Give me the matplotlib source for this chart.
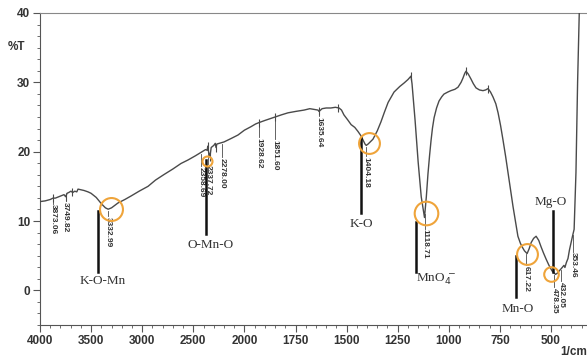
import numpy as np
import matplotlib
matplotlib.use("Agg")
import matplotlib.pyplot as plt
from matplotlib.ticker import FixedLocator, NullFormatter

# ---------------- data ----------------
wavenumber = [4000, 3950, 3900, 3873, 3850, 3800, 3765, 3749, 3735, 3720, 3697, 3680, 3660, 3640,
              3628, 3600, 3569, 3530, 3501, 3450, 3400, 3360, 3333, 3300, 3237, 3170, 3110, 3030,
              2943, 2870, 2787, 2700, 2620, 2552, 2480, 2425, 2380, 2365, 2358, 2350, 2337, 2325,
              2300, 2285, 2278, 2270, 2200, 2130, 2063, 2000, 1968, 1945, 1928, 1900, 1870, 1851,
              1820, 1787, 1750, 1708, 1680, 1660, 1640, 1635, 1620, 1600, 1577, 1555, 1537, 1525,
              1513, 1495, 1478, 1460, 1444, 1430, 1420, 1410, 1404, 1395, 1385, 1371, 1350, 1332,
              1315, 1297, 1268, 1240, 1219, 1200, 1185, 1180, 1165, 1150, 1135, 1119, 1110, 1102,
              1094, 1087, 1080, 1072, 1060, 1048, 1035, 1024, 1005, 990, 970, 955, 940, 931, 922,
              916, 905, 892, 880, 867, 850, 833, 820, 808, 796, 784, 770, 759, 747, 735, 722, 710,
              698, 686, 674, 662, 650, 640, 630, 617, 607, 597, 585, 573, 560, 549, 537, 524, 510,
              495, 478, 468, 460, 448, 437, 432, 425, 417, 410, 402, 395, 387, 378, 370, 362, 355, 345]
transmittance = [12.8, 12.9, 13.1, 13.3, 13.3, 13.6, 13.8, 13.5, 14.0, 14.1, 14.3, 14.1, 14.3, 14.2,
                 14.6, 14.5, 14.4, 14.2, 14.0, 13.4, 12.5, 11.9, 11.7, 11.9, 12.6, 13.1, 13.6, 14.3,
                 15.0, 15.9, 16.7, 17.5, 18.3, 18.8, 19.4, 19.9, 20.3, 20.2, 20.8, 19.9, 19.3, 20.6,
                 20.9, 21.2, 20.6, 21.1, 21.4, 21.9, 22.4, 23.1, 23.6, 24.0, 24.2, 24.5, 24.8, 25.0,
                 25.3, 25.6, 25.8, 26.0, 26.2, 26.1, 26.0, 25.8, 26.2, 26.3, 26.3, 26.4, 26.3, 26.0,
                 25.3, 24.6, 23.9, 23.5, 22.9, 22.3, 21.7, 21.1, 20.9, 21.1, 21.4, 21.8, 23.0, 24.3,
                 25.7, 27.1, 28.6, 29.4, 29.9, 30.4, 30.9, 29.8, 24.5, 18.5, 13.5, 10.5, 13.5, 16.8,
                 19.5, 21.6, 23.4, 24.9, 26.3, 27.3, 27.9, 28.3, 28.6, 28.8, 29.0, 29.3, 30.0, 30.6,
                 31.3, 31.6, 31.2, 30.5, 29.8, 29.2, 28.9, 28.8, 28.9, 29.1, 28.6, 27.9, 26.9, 25.6,
                 23.8, 21.7, 19.3, 16.9, 14.5, 12.1, 9.9, 7.8, 6.8, 6.2, 5.7, 5.3, 6.0, 6.9, 7.5, 7.8,
                 7.2, 6.3, 5.4, 4.5, 3.6, 2.8, 2.3, 2.5, 2.8, 3.2, 3.6, 3.3, 4.0, 4.6, 5.8, 6.9, 7.8,
                 8.8, 17.0, 30.0, 40.0, 48.0, 55.0]

# peak labels: text, wavenumber where the label sits, %T of the label top
peak_labels = ["3873.06", "3749.82", "3332.99", "2358.69", "2337.72", "2278.00", "1928.62",
               "1851.60", "1635.64", "1404.18", "1118.71", "617.22", "478.35", "432.05", "353.46"]
peak_label_x = [3873, 3749, 3333, 2425, 2356, 2219, 1929, 1851, 1635, 1404, 1117, 622, 484, 451, 392]
peak_label_top = [12.4, 12.8, 10.6, 17.8, 18.1, 19.1, 22.0, 21.7, 25.0, 19.3, 8.8, 3.5, 0.4, 1.2, 5.5]

# small peak tick marks on the trace
tick_marks = [3873, 3749, 3690, 2358, 2337, 2278, 1928, 1851, 1635, 1540, 1185, 916, 808]

# assignment labels
assign_text = ["K-O-Mn", "O-Mn-O", "K-O", "MnO$_4^{\\,-}$", "Mn-O", "Mg-O"]
assign_line_x = [3432, 2376, 1430, 1160, 671, 490]
assign_line_top = [11.4, 18.8, 22.0, 9.9, 4.9, 11.4]
assign_line_bot = [2.6, 8.1, 11.2, 2.7, -1.0, 2.6]
assign_text_x = [3384, 2327, 1430, 1162, 661, 500]
assign_text_y = [1.3, 6.6, 9.5, 1.6, -2.7, 12.7]

# highlighted bands (orange circles)
circle_x = [3305, 2366, 1390, 1111, 617, 500]
circle_y = [11.8, 18.6, 21.3, 11.1, 5.2, 2.3]
circle_size = [16.5, 7.2, 15.0, 17.0, 15.0, 10.5]

x_major = [4000, 3500, 3000, 2500, 2000, 1750, 1500, 1250, 1000, 750, 500]
y_major = [0, 10, 20, 30, 40]

# ---------------- scale (FTIR: expanded below 2000 cm-1) ----------------
def fwd(x):
    x = np.asarray(x, dtype=float)
    return np.where(x >= 2000, x, 2 * x - 2000)

def inv(y):
    y = np.asarray(y, dtype=float)
    return np.where(y >= 2000, y, (y + 2000) / 2)

fig = plt.figure(figsize=(5.87, 3.58), dpi=100)
ax = fig.add_axes([40 / 587, 33 / 358, 1 - 40 / 587, 312 / 358])
ax.set_xscale("function", functions=(fwd, inv))
ax.set_xlim(4000, 324)
ax.set_ylim(-5, 40)

grey = "#3a3a3a"
ax.plot(wavenumber, transmittance, color="#4a4a4a", lw=1.0, clip_on=True, zorder=3)

# tick marks on trace
tm_y = np.interp(tick_marks, wavenumber[::-1], transmittance[::-1])
ax.plot(tick_marks, tm_y, ls="none", marker="|", ms=6, mew=0.8, color="#4a4a4a", zorder=3)

# peak labels
for txt, lx, top in zip(peak_labels, peak_label_x, peak_label_top):
    yc = float(np.interp(lx, wavenumber[::-1], transmittance[::-1]))
    ax.plot([lx, lx], [yc - 0.2, top + 0.1], color="#4a4a4a", lw=0.6, zorder=3)
    ax.text(lx, top, txt, rotation=270, ha="center", va="top", fontsize=6,
            fontweight="bold", family="Liberation Sans", color="#333333", zorder=4)

# assignment lines and text
for t, lx, lt, lb, tx, ty in zip(assign_text, assign_line_x, assign_line_top, assign_line_bot,
                                 assign_text_x, assign_text_y):
    ax.plot([lx, lx], [lt, lb], color="#111111", lw=1.8, zorder=4)
    ha = "left" if t.startswith("MnO") else "center"
    ax.text(tx, ty, t, ha=ha, va="center", fontsize=9.5, family="Liberation Serif",
            color="#333333", zorder=4)

# orange circles
for cx, cy, cs in zip(circle_x, circle_y, circle_size):
    ax.plot([cx], [cy], ls="none", marker="o", ms=cs, mfc="none", mec="#EFA43A", mew=1.5, zorder=5)

# axes styling
for s in ["right"]:
    ax.spines[s].set_visible(False)
ax.spines["top"].set_linestyle((0, (1, 1)))
ax.spines["top"].set_color("#888888")
ax.spines["top"].set_linewidth(0.8)
ax.spines["left"].set_color("#555555")
ax.spines["bottom"].set_color("#555555")

ax.xaxis.set_major_locator(FixedLocator(x_major))
minor_x = list(range(4000, 2000, -100)) + list(range(2000, 320, -50))
ax.xaxis.set_minor_locator(FixedLocator(minor_x))
ax.set_xticklabels([str(v) for v in x_major])
ax.xaxis.set_minor_formatter(NullFormatter())

ax.yaxis.set_major_locator(FixedLocator(y_major))
ax.yaxis.set_minor_locator(FixedLocator(list(np.arange(-5, 40.01, 10 / 6))))
ax.set_yticklabels([str(v) for v in y_major])

ax.tick_params(axis="both", which="major", direction="out", length=5, width=0.8, color="#555555",
               labelsize=8.5, labelcolor="#333333", pad=2)
ax.tick_params(axis="both", which="minor", direction="out", length=2.5, width=0.6, color="#555555")
for lab in ax.get_xticklabels() + ax.get_yticklabels():
    lab.set_fontweight("bold")
    lab.set_family("Liberation Sans")

fig.text(8 / 587, 1 - 47 / 358, "%T", fontsize=8.5, fontweight="bold", family="Liberation Sans",
         color="#333333", va="center", ha="left")
fig.text(560 / 587, 1 - 352 / 358, "1/cm", fontsize=8.5, fontweight="bold", family="Liberation Sans",
         color="#333333", va="center", ha="left")

fig.savefig("out.png", dpi=100)
